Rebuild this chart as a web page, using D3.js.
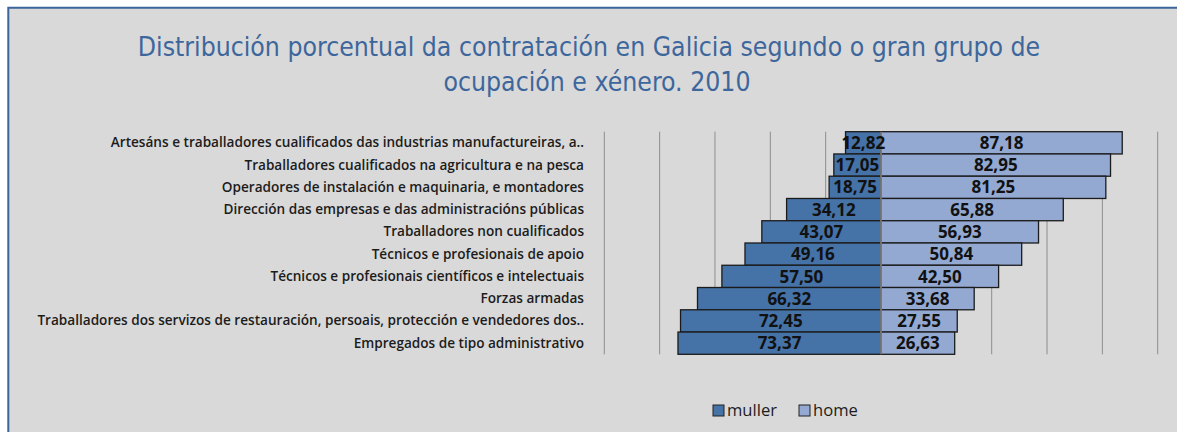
<!DOCTYPE html>
<html>
<head>
<meta charset="utf-8">
<script src="https://cdn.jsdelivr.net/npm/d3@7"></script>
<style>
  body { margin: 0; background: #fff; }
  svg { display: block; }
</style>
</head>
<body>
<div id="chart"></div>
<script>
const titleLines = [
    "Distribución porcentual da contratación en Galicia segundo o gran grupo de",
    "ocupación e xénero. 2010"
]

const categories = [
    "Artesáns e traballadores cualificados das industrias manufactureiras, a..",
    "Traballadores cualificados na agricultura e na pesca",
    "Operadores de instalación e maquinaria, e montadores",
    "Dirección das empresas e das administracións públicas",
    "Traballadores non cualificados",
    "Técnicos e profesionais de apoio",
    "Técnicos e profesionais científicos e intelectuais",
    "Forzas armadas",
    "Traballadores dos servizos de restauración, persoais, protección e vendedores dos..",
    "Empregados de tipo administrativo"
]

const muller = [12.82, 17.05, 18.75, 34.12, 43.07, 49.16, 57.50, 66.32, 72.45, 73.37]
const home = [87.18, 82.95, 81.25, 65.88, 56.93, 50.84, 42.50, 33.68, 27.55, 26.63]

const xTicks = [-100, -80, -60, -40, -20, 0, 20, 40, 60, 80, 100]

const seriesNames = ["muller", "home"]

const gc = {
    width: 1177,
    height: 432,
    plot: { left: 604.3, right: 1157.7, top: 131.7, bottom: 354.3 },
    colors: { muller: "#4572a7", home: "#93a9d2" },
    bg: "#d9d9d9",
    frame: "#3b659b",
    grid: "#8e8e8e",
    font: "'Open Sans', 'Noto Sans', sans-serif",
    narrow: "'DejaVu Sans Condensed', 'Liberation Sans Narrow', 'Open Sans', sans-serif"
}

// shrink/grow a font so the text reaches a given width
function fitFont(sel, target) {
    const w = sel.node().getComputedTextLength()
    const size = parseFloat(sel.style("font-size"))
    sel.style("font-size", (size * target / w) + "px")
    return size * target / w
}

const fmt = v => v.toFixed(2).replace(".", ",")

const svg = d3.select("#chart").append("svg")
    .attr("width", gc.width)
    .attr("height", gc.height)
    .style("font-family", gc.font)

svg.append("rect")
    .attr("x", 8).attr("y", 7.7)
    .attr("width", gc.width - 8).attr("height", gc.height)
    .attr("fill", gc.bg)

svg.append("path")
    .attr("d", `M8.3,${gc.height} V7.7 H${gc.width}`)
    .attr("fill", "none")
    .attr("stroke", gc.frame)
    .attr("stroke-width", 2)

// title
const t1 = svg.append("text")
    .attr("x", 589).attr("y", 56)
    .attr("text-anchor", "middle")
    .attr("fill", "#3d679c")
    .style("font-family", gc.narrow)
    .style("font-size", "24px")
    .text(titleLines[0])
const titleSize = fitFont(t1, 903)

svg.append("text")
    .attr("x", 597).attr("y", 91)
    .attr("text-anchor", "middle")
    .attr("fill", "#3d679c")
    .style("font-family", gc.narrow)
    .style("font-size", titleSize + "px")
    .text(titleLines[1])

const x = d3.scaleLinear()
    .domain([-100, 100])
    .range([gc.plot.left, gc.plot.right])

const y = d3.scaleBand()
    .domain(categories)
    .range([gc.plot.top, gc.plot.bottom])
    .padding(0)

// gridlines
svg.append("g")
    .selectAll("line")
    .data(xTicks.filter(d => d !== 0))
    .join("line")
    .attr("x1", d => x(d)).attr("x2", d => x(d))
    .attr("y1", gc.plot.top).attr("y2", gc.plot.bottom)
    .attr("stroke", gc.grid)
    .attr("stroke-width", 1)

// category labels
const labels = svg.append("g")
    .selectAll("text")
    .data(categories)
    .join("text")
    .attr("x", 584)
    .attr("y", d => y(d) + y.bandwidth() / 2)
    .attr("dy", "0.33em")
    .attr("text-anchor", "end")
    .attr("fill", "#1c1c1c")
    .style("font-weight", 600)
    .style("font-size", "13px")
    .text(d => d)

// longest label spans from x=37 to x=584
const longest = labels.filter((d, i) => i === 8)
const labelSize = fitFont(longest, 547)
labels.style("font-size", labelSize + "px")

const rows = categories.map((c, i) => ({ cat: c, muller: muller[i], home: home[i] }))

const bars = svg.append("g")

bars.selectAll("rect.muller")
    .data(rows)
    .join("rect")
    .attr("class", "muller")
    .attr("x", d => x(-d.muller))
    .attr("y", d => y(d.cat))
    .attr("width", d => x(0) - x(-d.muller))
    .attr("height", y.bandwidth())
    .attr("fill", gc.colors.muller)
    .attr("stroke", "#1b1b1b")
    .attr("stroke-width", 1.3)

bars.selectAll("rect.home")
    .data(rows)
    .join("rect")
    .attr("class", "home")
    .attr("x", x(0))
    .attr("y", d => y(d.cat))
    .attr("width", d => x(d.home) - x(0))
    .attr("height", y.bandwidth())
    .attr("fill", gc.colors.home)
    .attr("stroke", "#1b1b1b")
    .attr("stroke-width", 1.3)

// zero axis over the bars
svg.append("line")
    .attr("x1", x(0)).attr("x2", x(0))
    .attr("y1", gc.plot.top).attr("y2", gc.plot.bottom)
    .attr("stroke", "#8a8a8a")
    .attr("stroke-width", 1.5)

// value labels
const vals = svg.append("g")
    .attr("text-anchor", "middle")
    .attr("fill", "#111")
    .style("font-weight", "bold")
    .style("font-size", "17px")

vals.selectAll("text.m")
    .data(rows)
    .join("text")
    .attr("class", "m")
    .attr("x", d => (x(-d.muller) + x(0)) / 2)
    .attr("y", d => y(d.cat) + y.bandwidth() / 2)
    .attr("dy", "0.36em")
    .text(d => fmt(d.muller))

vals.selectAll("text.h")
    .data(rows)
    .join("text")
    .attr("class", "h")
    .attr("x", d => (x(0) + x(d.home)) / 2)
    .attr("y", d => y(d.cat) + y.bandwidth() / 2)
    .attr("dy", "0.36em")
    .text(d => fmt(d.home))

// legend
const legendX = [713, 799]
const legend = svg.append("g")
    .selectAll("g")
    .data(seriesNames)
    .join("g")
    .attr("transform", (d, i) => `translate(${legendX[i]},405)`)

legend.append("rect")
    .attr("width", 11).attr("height", 11)
    .attr("fill", d => gc.colors[d])
    .attr("stroke", "#222")
    .attr("stroke-width", 1)

const legendText = legend.append("text")
    .attr("x", 14).attr("y", 11)
    .attr("fill", "#1c1c1c")
    .style("font-size", "15px")
    .text(d => d)

const legendSize = fitFont(legendText.filter((d, i) => i === 0), 50)
legendText.style("font-size", legendSize + "px")
</script>
</body>
</html>
